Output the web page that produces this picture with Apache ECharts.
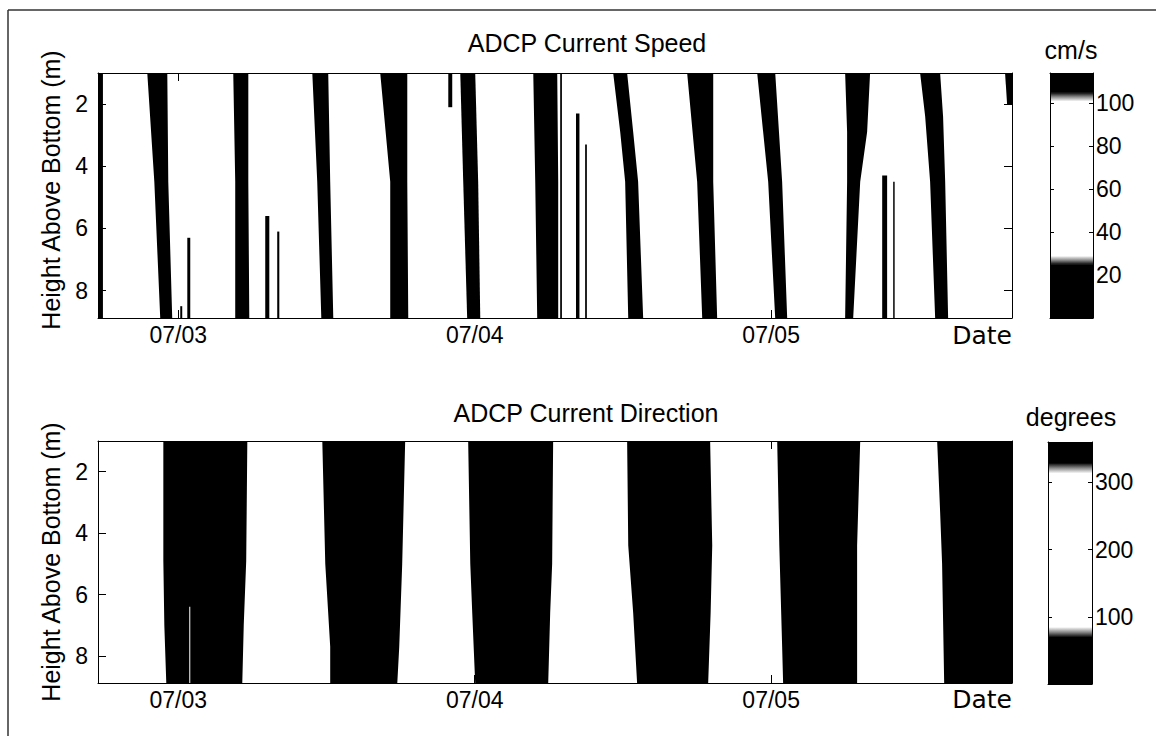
<!DOCTYPE html>
<html>
<head>
<meta charset="utf-8">
<title>ADCP Current Speed and Direction</title>
<script src="https://cdn.jsdelivr.net/npm/echarts@6/dist/echarts.min.js"></script>
<style>
  html, body { margin: 0; padding: 0; background: #fff; }
  #chart { width: 1156px; height: 736px; }
</style>
</head>
<body>
<div id="chart"></div>
<script>
// Time is in hours from 07/03 00:00, height in metres above the bottom.
const timeTicks = [0, 24, 48];
const dateLabels = ['07/03', '07/04', '07/05'];
const heightTicks = [2, 4, 6, 8];
const speedTicks = [20, 40, 60, 80, 100];
const directionTicks = [100, 200, 300];

// Colour scale thresholds: dark below the first, ramp to light, light, ramp to dark, dark above the last.
const speedLevels = [25, 29, 101, 105];
const directionLevels = [70, 85, 314, 329];

// Slack-water periods (speed below ~25 cm/s): rows of [height m, start h, end h].
const speedSlackBands = [
  [[1.0, -6.5, -6.1], [8.9, -6.5, -6.1]],
  [[1.0, -2.51, -0.89], [4.5, -1.94, -0.81], [8.9, -1.46, -0.49]],
  [[1.0, 4.45, 5.67], [4.5, 4.61, 5.67], [8.9, 4.61, 5.75]],
  [[1.0, 10.85, 12.14], [4.5, 11.25, 12.30], [8.9, 11.58, 12.55]],
  [[1.0, 16.35, 18.54], [4.5, 17.16, 18.54], [8.9, 17.16, 18.62]],
  [[1.0, 22.83, 24.04], [4.5, 23.07, 24.28], [8.9, 23.39, 24.45]],
  [[1.0, 28.74, 30.68], [4.5, 28.90, 30.76], [8.9, 29.06, 30.76]],
  [[1.0, 35.21, 36.34], [2.9, 35.78, 36.83], [4.5, 36.18, 37.23], [8.9, 36.43, 37.64]],
  [[1.0, 41.20, 43.31], [4.5, 42.01, 43.31], [8.9, 42.42, 43.63]],
  [[1.0, 46.87, 48.33], [4.5, 47.76, 48.89], [8.9, 48.33, 49.30]],
  [[1.0, 53.99, 56.01], [2.9, 54.15, 55.77], [4.5, 54.15, 55.21], [8.9, 53.99, 54.64]],
  [[1.0, 60.06, 61.68], [2.4, 60.47, 61.92], [4.5, 60.87, 62.09], [8.9, 61.28, 62.33]],
  [[1.0, 66.94, 67.5], [2.0, 67.1, 67.5]]
];

// Short low-speed streaks: [start h, end h, upper height m, lower height m].
const speedStreaks = [
  [0.73, 0.97, 6.3, 8.9],
  [0.16, 0.32, 8.5, 8.9],
  [7.04, 7.37, 5.6, 8.9],
  [8.01, 8.18, 6.1, 8.9],
  [21.86, 22.18, 1.0, 2.1],
  [30.92, 31.06, 1.0, 8.9],
  [32.20, 32.48, 2.3, 8.9],
  [32.94, 33.08, 3.3, 8.9],
  [56.99, 57.39, 4.3, 8.9],
  [57.88, 58.00, 4.5, 8.9]
];

// Flood periods (direction outside ~85-314 degrees): rows of [height m, start h, end h].
const directionFloodBands = [
  [[1.0, -1.21, 5.59], [4.9, -1.21, 5.50], [7.0, -1.13, 5.30], [8.9, -0.97, 5.18]],
  [[1.0, 11.66, 18.37], [5.0, 11.90, 18.13], [7.7, 12.30, 17.89], [8.9, 12.30, 17.73]],
  [[1.0, 23.47, 30.35], [5.0, 23.64, 30.27], [6.6, 23.80, 30.11], [8.9, 24.04, 29.95]],
  [[1.0, 36.34, 43.06], [4.4, 36.43, 43.23], [6.6, 36.83, 43.10], [8.9, 37.15, 42.90]],
  [[1.0, 48.49, 55.21], [4.4, 48.66, 54.96], [7.7, 48.89, 54.96], [8.9, 48.97, 54.96]],
  [[1.0, 61.44, 67.5], [3.3, 61.68, 67.5], [5.0, 61.84, 67.5], [8.9, 62.01, 67.5]]
];

// Ebb readings inside a flood period: [start h, end h, upper height m, lower height m].
const directionGaps = [
  [0.89, 0.97, 6.4, 8.9]
];

const FONT = '"Liberation Sans", Arial, Helvetica, sans-serif';
const DARK = '#000000';
const LIGHT = '#ffffff';
const T_MIN = -6.5, T_MAX = 67.5;
const H_MIN = 1.0, H_MAX = 8.88;

const chart = echarts.init(document.getElementById('chart'), null, { renderer: 'svg' });

function timeAxis(gridIndex, position, labelled) {
  return {
    gridIndex, type: 'value', position, min: T_MIN, max: T_MAX, z: 5,
    axisLine: { show: true, onZero: false, lineStyle: { color: '#000', width: 1 } },
    axisTick: { show: true, inside: true, length: 8, customValues: timeTicks, lineStyle: { color: '#000' } },
    axisLabel: {
      show: labelled, customValues: timeTicks, margin: 5, color: '#000',
      fontFamily: FONT, fontSize: 23,
      formatter: v => dateLabels[timeTicks.indexOf(v)]
    },
    splitLine: { show: false }
  };
}

function heightAxis(gridIndex, position, labelled) {
  return {
    gridIndex, type: 'value', position, inverse: true, min: H_MIN, max: H_MAX, z: 5,
    axisLine: { show: true, onZero: false, lineStyle: { color: '#000', width: 1 } },
    axisTick: { show: true, inside: true, length: 8, customValues: heightTicks, lineStyle: { color: '#000' } },
    axisLabel: { show: labelled, customValues: heightTicks, margin: 10, color: '#000', fontFamily: FONT, fontSize: 23 },
    splitLine: { show: false }
  };
}

function barFrameAxis(gridIndex, position) {
  return {
    gridIndex, type: 'value', position, min: 0, max: 1, z: 5,
    axisLine: { show: true, onZero: false, lineStyle: { color: '#000', width: 1 } },
    axisTick: { show: false }, axisLabel: { show: false }, splitLine: { show: false }
  };
}

function barScaleAxis(gridIndex, position, max, ticks, labelled) {
  return {
    gridIndex, type: 'value', position, min: 0, max, z: 5,
    axisLine: { show: true, onZero: false, lineStyle: { color: '#000', width: 1 } },
    axisTick: { show: true, inside: true, length: 4, customValues: ticks, lineStyle: { color: '#000' } },
    axisLabel: { show: labelled, customValues: ticks, margin: 3, color: '#000', fontFamily: FONT, fontSize: 23 },
    splitLine: { show: false }
  };
}

// Polygon for each band: left edge downwards, right edge back up.
function bandSeries(bands, xi, yi, fill) {
  return {
    type: 'custom', xAxisIndex: xi, yAxisIndex: yi, clip: true, silent: true,
    data: bands.map(b => [b[0][1], b[0][0]]),
    renderItem: (params, api) => {
      const rows = bands[params.dataIndex];
      const left = rows.map(r => api.coord([r[1], r[0]]));
      const right = rows.slice().reverse().map(r => api.coord([r[2], r[0]]));
      return { type: 'polygon', shape: { points: left.concat(right) }, style: { fill: fill, stroke: null } };
    }
  };
}

function streakSeries(list, xi, yi, fill) {
  return {
    type: 'custom', xAxisIndex: xi, yAxisIndex: yi, clip: true, silent: true,
    data: list.map(s => [s[0], s[2]]),
    renderItem: (params, api) => {
      const s = list[params.dataIndex];
      const p0 = api.coord([s[0], s[2]]);
      const p1 = api.coord([s[1], s[3]]);
      return {
        type: 'rect',
        shape: { x: p0[0], y: p0[1], width: Math.max(1, p1[0] - p0[0]), height: p1[1] - p0[1] },
        style: { fill: fill }
      };
    }
  };
}

// Colour bar: dark / ramp / light / ramp / dark pieces between the scale thresholds.
function colorBarSeries(levels, max, xi, yi) {
  const edges = [0].concat(levels, [max]);
  const pieces = [];
  for (let i = 0; i < edges.length - 1; i++) pieces.push([edges[i], edges[i + 1], i]);
  const fills = [
    DARK,
    { type: 'linear', x: 0, y: 1, x2: 0, y2: 0, colorStops: [{ offset: 0, color: DARK }, { offset: 0.5, color: '#8a8a8a' }, { offset: 1, color: LIGHT }] },
    LIGHT,
    { type: 'linear', x: 0, y: 1, x2: 0, y2: 0, colorStops: [{ offset: 0, color: LIGHT }, { offset: 0.5, color: '#8a8a8a' }, { offset: 1, color: DARK }] },
    DARK
  ];
  return {
    type: 'custom', xAxisIndex: xi, yAxisIndex: yi, clip: true, silent: true,
    data: pieces.map(p => [0, p[0]]),
    renderItem: (params, api) => {
      const p = pieces[params.dataIndex];
      const a = api.coord([0, p[1]]);
      const b = api.coord([1, p[0]]);
      return {
        type: 'rect',
        shape: { x: a[0], y: a[1], width: b[0] - a[0], height: b[1] - a[1] + 0.5 },
        style: { fill: fills[p[2]] }
      };
    }
  };
}

function label(text, x, y, font, extra) {
  return Object.assign({
    type: 'text', x, y, silent: true,
    style: { text, fill: '#000', font, textAlign: 'center', textVerticalAlign: 'middle' }
  }, extra || {});
}

const TEXT_FONT = '25px ' + FONT;
const DATE_FONT = '25px "DejaVu Sans", sans-serif';

const option = {
  animation: false,
  backgroundColor: '#ffffff',
  grid: [
    { left: 98, top: 73, width: 914, height: 245 },
    { left: 1050, top: 73, width: 43, height: 245 },
    { left: 98, top: 441, width: 914, height: 242 },
    { left: 1048, top: 442, width: 44, height: 242 }
  ],
  xAxis: [
    timeAxis(0, 'bottom', true),
    timeAxis(0, 'top', false),
    barFrameAxis(1, 'bottom'),
    barFrameAxis(1, 'top'),
    timeAxis(2, 'bottom', true),
    timeAxis(2, 'top', false),
    barFrameAxis(3, 'bottom'),
    barFrameAxis(3, 'top')
  ],
  yAxis: [
    heightAxis(0, 'left', true),
    heightAxis(0, 'right', false),
    barScaleAxis(1, 'right', 114, speedTicks, true),
    barScaleAxis(1, 'left', 114, speedTicks, false),
    heightAxis(2, 'left', true),
    heightAxis(2, 'right', false),
    barScaleAxis(3, 'right', 360, directionTicks, true),
    barScaleAxis(3, 'left', 360, directionTicks, false)
  ],
  series: [
    bandSeries(speedSlackBands, 0, 0, DARK),
    streakSeries(speedStreaks, 0, 0, DARK),
    colorBarSeries(speedLevels, 114, 2, 2),
    bandSeries(directionFloodBands, 4, 4, DARK),
    streakSeries(directionGaps, 4, 4, LIGHT),
    colorBarSeries(directionLevels, 360, 6, 6)
  ],
  graphic: [
    { type: 'line', silent: true, shape: { x1: 8, y1: 10, x2: 1156, y2: 10 }, style: { stroke: '#333', lineWidth: 1.5 } },
    { type: 'line', silent: true, shape: { x1: 8, y1: 10, x2: 8, y2: 736 }, style: { stroke: '#333', lineWidth: 1.5 } },
    label('ADCP Current Speed', 587, 43, TEXT_FONT),
    label('ADCP Current Direction', 586, 413, TEXT_FONT),
    label('cm/s', 1071, 50, TEXT_FONT),
    label('degrees', 1071, 417, TEXT_FONT),
    label('Height Above Bottom (m)', 51, 190, TEXT_FONT, { rotation: Math.PI / 2 }),
    label('Height Above Bottom (m)', 51, 562, TEXT_FONT, { rotation: Math.PI / 2 }),
    label('Date', 1012, 335, DATE_FONT, { style: { text: 'Date', fill: '#000', font: DATE_FONT, textAlign: 'right', textVerticalAlign: 'middle' } }),
    label('Date', 1012, 699, DATE_FONT, { style: { text: 'Date', fill: '#000', font: DATE_FONT, textAlign: 'right', textVerticalAlign: 'middle' } })
  ]
};

chart.setOption(option);
</script>
</body>
</html>
